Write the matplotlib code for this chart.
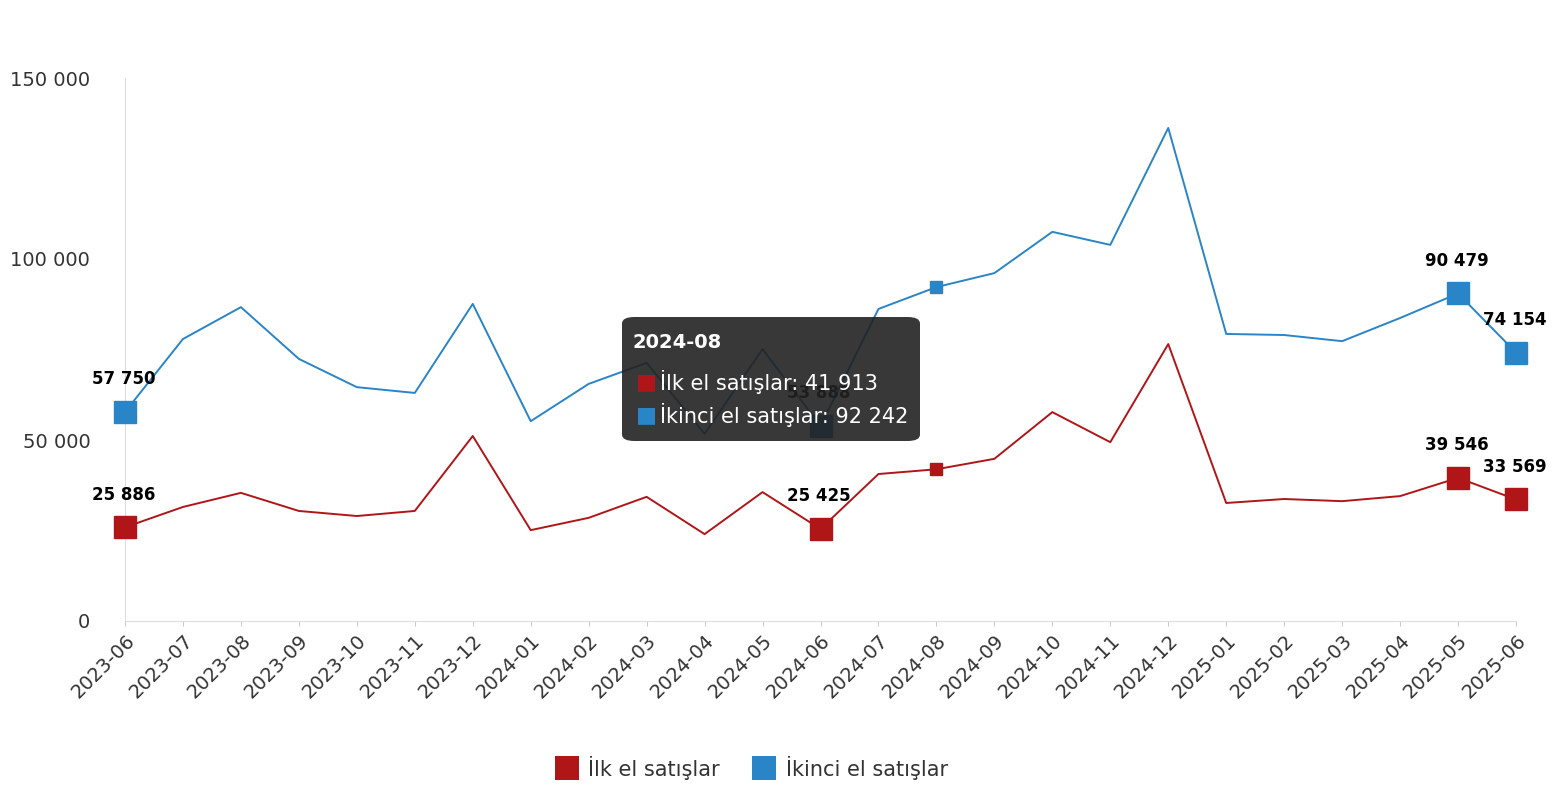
import matplotlib
matplotlib.use("Agg")
import matplotlib.pyplot as plt
from matplotlib.patches import FancyBboxPatch

months = ["2023-06","2023-07","2023-08","2023-09","2023-10","2023-11","2023-12",
          "2024-01","2024-02","2024-03","2024-04","2024-05","2024-06","2024-07",
          "2024-08","2024-09","2024-10","2024-11","2024-12","2025-01","2025-02",
          "2025-03","2025-04","2025-05","2025-06"]
ilk = [25886,31500,35400,30400,29000,30400,51100,25100,28500,34300,24000,35600,
       25425,40600,41913,44800,57700,49400,76500,32600,33700,33100,34500,39546,33569]
ikinci = [57750,77900,86700,72400,64600,63000,87600,55200,65500,71300,51700,75100,
          53888,86200,92242,96100,107500,103900,136200,79300,79000,77300,83700,90479,74154]
yticks = [0, 50000, 100000, 150000]
labeled = [0, 12, 23, 24]

RED = "#b01518"; BLUE = "#2a84c8"

def fmt(v):
    return f"{v:,}".replace(",", " ")

fig = plt.figure(figsize=(15.56, 8.0), dpi=100)
ax = fig.add_axes([125/1556, 1-621/800, (1516-125)/1556, (621-78)/800])
x = list(range(len(months)))
ax.plot(x, ilk, color=RED, lw=1.4)
ax.plot(x, ikinci, color=BLUE, lw=1.4)
for i in labeled:
    ax.plot(i, ilk[i], "s", color=RED, ms=16, clip_on=False, zorder=5)
    ax.plot(i, ikinci[i], "s", color=BLUE, ms=16, clip_on=False, zorder=5)
    ax.annotate(fmt(ilk[i]), (i, ilk[i]), xytext=(-24, 20), textcoords="offset points",
                fontsize=12, fontweight="bold", annotation_clip=False)
    ax.annotate(fmt(ikinci[i]), (i, ikinci[i]), xytext=(-24, 20), textcoords="offset points",
                fontsize=12, fontweight="bold", annotation_clip=False)
ax.plot(14, ilk[14], "s", color=RED, ms=8)
ax.plot(14, ikinci[14], "s", color=BLUE, ms=8)

ax.set_xlim(0, len(months)-1)
ax.set_ylim(0, 150000)
ax.set_yticks(yticks)
ax.set_yticklabels([fmt(v) for v in yticks], fontsize=14, color="#333")
ax.set_xticks(x)
ax.set_xticklabels(months, rotation=45, ha="right", rotation_mode="anchor", fontsize=14, color="#333")
for s in ["top", "right"]:
    ax.spines[s].set_visible(False)
ax.spines["left"].set_color("#ddd")
ax.spines["bottom"].set_color("#ddd")
ax.tick_params(axis="y", length=0, pad=25)
ax.tick_params(axis="x", color="#ccc")

# tooltip
box = FancyBboxPatch((622/1556, 1-441/800), 298/1556, 124/800, transform=fig.transFigure,
                     boxstyle="round,pad=0,rounding_size=0.008", fc="#222222", ec="none", alpha=0.9, zorder=10)
fig.patches.append(box)
fig.text(633/1556, 1-342/800, months[14], color="white", fontsize=14, fontweight="bold", va="center", zorder=11)
fig.text(636/1556, 1-382/800, "■", color=RED, fontsize=16, va="center", zorder=11)
fig.text(660/1556, 1-382/800, f"İlk el satışlar: {fmt(ilk[14])}", color="white", fontsize=15, va="center", zorder=11)
fig.text(636/1556, 1-415/800, "■", color=BLUE, fontsize=16, va="center", zorder=11)
fig.text(660/1556, 1-415/800, f"İkinci el satışlar: {fmt(ikinci[14])}", color="white", fontsize=15, va="center", zorder=11)

# legend
fig.patches.append(plt.Rectangle((555/1556, 1-780/800), 24/1556, 24/800, transform=fig.transFigure, fc=RED))
fig.text(588/1556, 1-768/800, "İlk el satışlar", fontsize=15, va="center", color="#333")
fig.patches.append(plt.Rectangle((752/1556, 1-780/800), 24/1556, 24/800, transform=fig.transFigure, fc=BLUE))
fig.text(786/1556, 1-768/800, "İkinci el satışlar", fontsize=15, va="center", color="#333")

fig.savefig("out.png", dpi=100)
